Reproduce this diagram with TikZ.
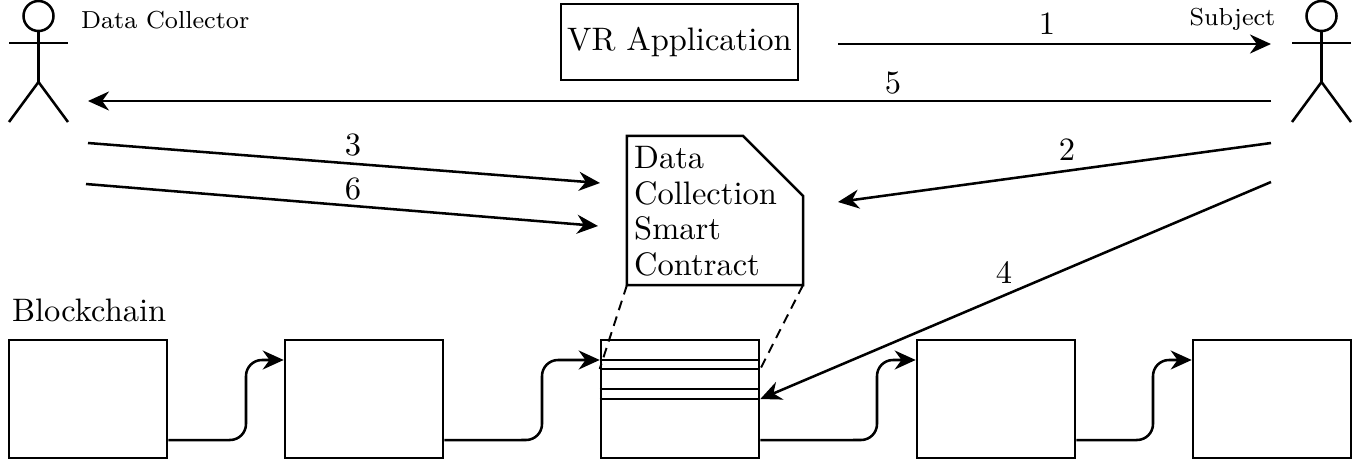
\documentclass[tikz,border=0pt]{standalone}
\usetikzlibrary{arrows.meta}
\tikzset{
    label/.style={font=\fontsize{10}{11}\selectfont,scale=.925,inner sep=0pt},
    small/.style={font=\footnotesize,scale=.875,inner sep=0pt},
    block/.style={draw,minimum width=1.58cm,minimum height=1.18cm,inner sep=0pt},
    actor/.pic={
        \draw (0,16) circle (15);
        \draw (0,31)--(0,82);
        \draw (-29.5,43)--(29.5,43);
        \draw (-29.5,122)--(0,82)--(29.5,122);
    }
}
\begin{document}
\begin{tikzpicture}[x=0.01cm,y=-0.01cm,line width=0.72pt,>={Stealth[length=2.1mm,width=1.9mm]}]
    \useasboundingbox (0,0) rectangle (1357,460);
    % people
    \pic at (38.5,0) {actor};
    \pic at (1321.5,0) {actor};
    \node[small,anchor=west] (collector) at (80,20) {Data Collector};
    \node[small,anchor=east] (subject) at (1276.5,19) {Subject};
    % application and contract
    \node[label,draw,minimum width=2.562cm,minimum height=.822cm] (vr) at (679.5,42) {VR Application};
    \node[minimum width=1.76cm,minimum height=1.49cm,inner sep=0pt,outer sep=0pt] (contract) at (715,210.5) {};
    \draw (contract.north west)--([xshift=-.6cm]contract.north east)--([yshift=-.6cm]contract.north east)
        --(contract.south east)--(contract.south west)--cycle;
    \node[label,anchor=north west,align=left] (contracttext) at (633,145) {Data\\Collection\\Smart\\Contract};
    % chain
    \node[block] (b1) at (88,399) {};
    \node[block] (b2) at (364,399) {};
    \node[block] (b3) at (680,399) {};
    \node[block] (b4) at (996,399) {};
    \node[block] (b5) at (1272,399) {};
    \node[label,anchor=south west] (chain) at (11,323) {Blockchain};
    \foreach \s in {.39,.30,.10,0}
        \draw ([yshift=\s cm]b3.west)--([yshift=\s cm]b3.east);
    \foreach \a/\b/\m in {b1/b2/246,b2/b3/542,b3/b4/877,b4/b5/1153}
        \draw[->,rounded corners=.16cm] ([yshift=-.41cm]\a.east)--(\m,440)--(\m,360)--([yshift=.39cm]\b.west);
    \draw[dash pattern=on 2.8pt off 1.9pt,line width=.55pt] (contract.south west)--([yshift=.30cm]b3.west);
    \draw[dash pattern=on 2.8pt off 1.9pt,line width=.55pt] (contract.south east)--([yshift=.30cm]b3.east);
    % free ends of the messages
    \coordinate (c5) at (88,101);
    \coordinate (c3) at (88,143);
    \coordinate (c6) at (86,184);
    \coordinate (s1) at (1271,44);
    \coordinate (s5) at (1271,101);
    \coordinate (s2) at (1271,143);
    \coordinate (s4) at (1271,182);
    \coordinate (v1) at (838,44);
    \coordinate (t3) at (600,183);
    \coordinate (t6) at (598,226);
    \coordinate (t2) at (838,202);
    % messages
    \draw[->] (v1)--(s1);
    \draw[->] (s5)--(c5);
    \draw[->] (c3)--(t3);
    \draw[->] (c6)--(t6);
    \draw[->] (s2)--(t2);
    \draw[->] (s4)--(b3.east);
    \node[label] (n1) at (1047,24) {1};
    \node[label] (n2) at (1067,150) {2};
    \node[label] (n3) at (353,145) {3};
    \node[label] (n4) at (1004,272) {4};
    \node[label] (n5) at (893,83) {5};
    \node[label] (n6) at (353,189) {6};
\end{tikzpicture}
\end{document}
